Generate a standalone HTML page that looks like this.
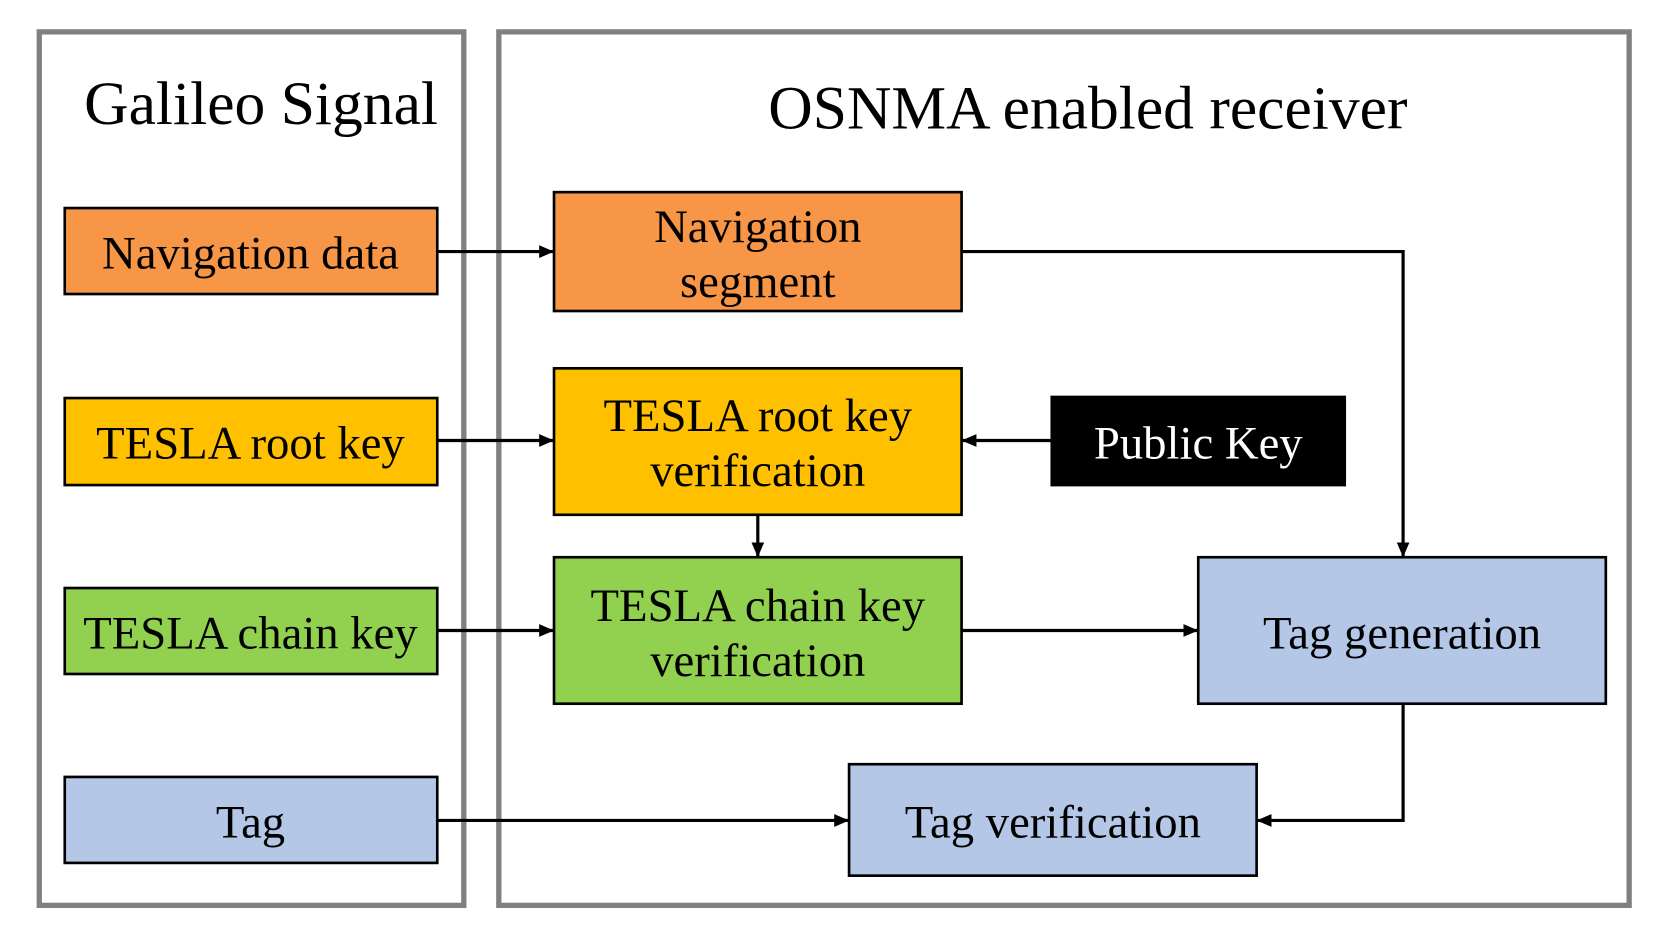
<!DOCTYPE html>
<html><head><style>html,body{margin:0;padding:0;background:#fff}svg{display:block}</style></head>
<body>
<svg width="1661" height="933" viewBox="0 0 1565 879" xmlns="http://www.w3.org/2000/svg" font-family="'Liberation Serif',serif">
<defs><marker id="a" markerWidth="14" markerHeight="12" refX="13" refY="6" orient="auto" markerUnits="userSpaceOnUse"><path d="M0,0 L14,6 L0,12 z" fill="#000"/></marker></defs>
<rect x="37" y="30" width="400" height="823" fill="none" stroke="#808080" stroke-width="5"/>
<rect x="470" y="30" width="1065" height="823" fill="none" stroke="#808080" stroke-width="5"/>
<text x="246" y="117" font-size="58" text-anchor="middle">Galileo Signal</text>
<text x="1025" y="121" font-size="58" text-anchor="middle">OSNMA enabled receiver</text>
<g stroke="#000" stroke-width="2.5">
<rect x="61" y="196" width="351" height="81" fill="#F79646"/>
<rect x="61" y="375" width="351" height="82" fill="#FFC000"/>
<rect x="61" y="554" width="351" height="81" fill="#92D050"/>
<rect x="61" y="732" width="351" height="81" fill="#B4C7E7"/>
<rect x="522" y="181" width="384" height="112" fill="#F79646"/>
<rect x="522" y="347" width="384" height="138" fill="#FFC000"/>
<rect x="522" y="525" width="384" height="138" fill="#92D050"/>
<rect x="991" y="374" width="276" height="83" fill="#000"/>
<rect x="1129" y="525" width="384" height="138" fill="#B4C7E7"/>
<rect x="800" y="720" width="384" height="105" fill="#B4C7E7"/>
</g>
<g font-size="44" text-anchor="middle" fill="#000">
<text x="236" y="253">Navigation data</text>
<text x="236" y="432">TESLA root key</text>
<text x="236" y="611">TESLA chain key</text>
<text x="236" y="789">Tag</text>
<text x="714" y="228">Navigation</text>
<text x="714" y="280">segment</text>
<text x="714" y="406">TESLA root key</text>
<text x="714" y="458">verification</text>
<text x="714" y="585">TESLA chain key</text>
<text x="714" y="637">verification</text>
<text x="1129" y="432" fill="#fff">Public Key</text>
<text x="1321" y="611">Tag generation</text>
<text x="992" y="789">Tag verification</text>
</g>
<g stroke="#000" stroke-width="3" fill="none" marker-end="url(#a)">
<path d="M412,237 H521"/>
<path d="M412,415 H521"/>
<path d="M412,594 H521"/>
<path d="M412,773 H799"/>
<path d="M991,415 H907"/>
<path d="M714,485 V524"/>
<path d="M906,594 H1128"/>
<path d="M906,237 H1322 V524"/>
<path d="M1322,663 V773 H1185"/>
</g>
</svg>
</body></html>
